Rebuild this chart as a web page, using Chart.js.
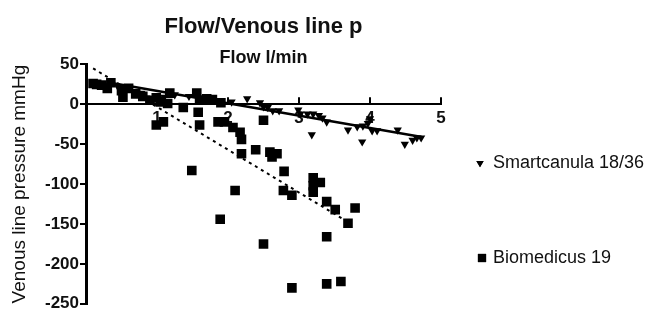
<!DOCTYPE html>
<html>
<head>
<meta charset="utf-8">
<script src="https://cdn.jsdelivr.net/npm/chart.js@4/dist/chart.umd.min.js"></script>
<style>
  html, body { margin: 0; padding: 0; background: #fff; }
  #wrap { width: 666px; height: 315px; position: relative; }
</style>
</head>
<body>
<div id="wrap"><canvas id="c" width="666" height="315"></canvas></div>
<script>
// ---- data ----
const smartFlow =     [0.34,0.45,0.78,0.85,1.0,1.1,1.25,1.45,1.6,1.75,1.9,2.05,2.27,2.45,2.5,2.56,2.63,2.72,2.99,3.02,3.12,3.2,3.28,3.33,3.39,3.18,3.69,3.82,3.9,3.97,4.0,4.03,4.1,3.89,4.39,4.49,4.6,4.66,4.72];
const smartPressure = [24,22,14,8,6,9,12,10,8,6,5,3,7,2,-3,-4,-8,-8,-7,-12,-12,-12,-14,-17,-22,-38,-32,-28,-27,-24,-18,-33,-33,-47,-32,-50,-45,-42,-42];

const bioFlow =     [0.1,0.15,0.22,0.3,0.35,0.5,0.52,0.6,0.7,0.8,0.9,0.99,1.05,1.15,1.18,1.37,1.56,1.6,1.7,1.78,1.9,0.99,1.09,1.58,1.6,1.86,1.95,2.07,2.17,2.19,2.19,2.39,2.5,2.59,2.62,2.69,2.79,2.78,2.9,3.2,3.2,3.3,3.2,3.39,3.51,3.69,3.79,1.49,2.1,1.89,2.5,3.39,2.9,3.39,3.59];
const bioPressure = [26,25,24,20,27,17,9,20,13,10,5,8,3,1,14,-4,14,5,7,6,2,-26,-22,-10,-26,-22,-22,-29,-35,-44,-62,-57,-20,-60,-66,-62,-84,-108,-114,-92,-102,-98,-110,-122,-132,-149,-130,-83,-108,-144,-175,-166,-230,-225,-222];

// regression line end points (flow, pressure)
const smartFitFlow = [0.34, 4.73];
const smartFitPressure = [27, -41];
const bioFitFlow = [0.1, 3.68];
const bioFitPressure = [45, -147];

const xTicks = [0, 1, 2, 3, 4, 5];
const yTicks = [-250, -200, -150, -100, -50, 0, 50];

const seriesLabels = ['Smartcanula 18/36', 'Biomedicus 19'];
const chartTitle = 'Flow/Venous line p';
const xTitle = 'Flow l/min';
const yTitle = 'Venous line pressure mmHg';

const pts = (xs, ys) => xs.map((x, i) => ({ x: x, y: ys[i] }));
const FONT = "'Liberation Sans', Arial, Helvetica, sans-serif";

// upward tick marks on the x axis + custom legend on the right
const extras = {
  id: 'extras',
  afterDraw(chart) {
    const ctx = chart.ctx;
    const xs = chart.scales.x, ys = chart.scales.y;
    const y0 = ys.getPixelForValue(0);
    ctx.save();
    ctx.strokeStyle = '#000';
    ctx.lineWidth = 2;
    xTicks.forEach(v => {
      if (v === 0) return;
      const px = xs.getPixelForValue(v);
      ctx.beginPath();
      ctx.moveTo(px, y0);
      ctx.lineTo(px, y0 - 7);
      ctx.stroke();
    });
    // legend
    const items = [
      { style: 'triangle', rotation: 180, radius: 4.2, mx: 480, y: 163 },
      { style: 'rect', rotation: 0, radius: 5.8, mx: 482, y: 258 }
    ];
    ctx.font = '18px ' + FONT;
    ctx.textBaseline = 'middle';
    ctx.textAlign = 'left';
    items.forEach((it, i) => {
      ctx.fillStyle = '#000';
      Chart.helpers.drawPoint(ctx, { pointStyle: it.style, rotation: it.rotation, radius: it.radius, borderWidth: 0 }, it.mx, it.y);
      ctx.fill();
      ctx.fillStyle = '#111';
      ctx.fillText(seriesLabels[i], 493, it.y);
    });
    // x axis title at the top, centred over the plot
    ctx.font = 'bold 18px ' + FONT;
    ctx.textAlign = 'center';
    ctx.fillStyle = '#111';
    ctx.fillText(xTitle, (chart.chartArea.left + chart.chartArea.right) / 2, 58);
    ctx.restore();
  }
};

new Chart(document.getElementById('c'), {
  type: 'scatter',
  data: {
    datasets: [
      {
        label: seriesLabels[0],
        data: pts(smartFlow, smartPressure),
        pointStyle: 'triangle',
        rotation: 180,
        pointRadius: 4.8,
        pointHoverRadius: 4.8,
        backgroundColor: '#000',
        borderWidth: 0,
        order: 1
      },
      {
        label: seriesLabels[1],
        data: pts(bioFlow, bioPressure),
        pointStyle: 'rect',
        pointRadius: 6.8,
        pointHoverRadius: 6.8,
        backgroundColor: '#000',
        borderWidth: 0,
        order: 2
      },
      {
        type: 'line',
        label: 'fit1',
        data: pts(smartFitFlow, smartFitPressure),
        borderColor: '#000',
        borderWidth: 2.5,
        pointRadius: 0,
        fill: false,
        order: 0
      },
      {
        type: 'line',
        label: 'fit2',
        data: pts(bioFitFlow, bioFitPressure),
        borderColor: '#000',
        borderWidth: 2,
        borderDash: [3, 4],
        pointRadius: 0,
        fill: false,
        order: 0
      }
    ]
  },
  options: {
    responsive: false,
    animation: false,
    events: [],
    layout: { padding: { left: 8, right: 225, top: 0, bottom: 11 } },
    plugins: {
      legend: { display: false },
      tooltip: { enabled: false },
      title: {
        display: true,
        text: chartTitle,
        fullSize: false,
        color: '#111',
        font: { family: FONT, size: 22, weight: 'bold', lineHeight: 1.2 },
        padding: { top: 14, bottom: 24 }
      }
    },
    scales: {
      x: {
        type: 'linear',
        position: { y: 0 },
        min: 0, max: 5,
        afterBuildTicks(scale) { scale.ticks = xTicks.map(v => ({ value: v })); },
        ticks: {
          color: '#111',
          font: { family: FONT, size: 17, weight: 'bold' },
          padding: 4,
          maxRotation: 0,
          callback: v => (v === 0 ? '' : String(v))
        },
        grid: { display: true, drawOnChartArea: false, drawTicks: false },
        border: { display: true, color: '#000', width: 2 }
      },
      y: {
        type: 'linear',
        position: 'left',
        min: -250, max: 50,
        afterBuildTicks(scale) { scale.ticks = yTicks.map(v => ({ value: v })); },
        afterFit(scale) { scale.width = 78; },
        ticks: {
          color: '#111',
          font: { family: FONT, size: 17, weight: 'bold' },
          padding: 1
        },
        grid: { display: true, drawOnChartArea: false, drawTicks: true, tickLength: 6, color: '#000', lineWidth: 2 },
        border: { display: true, color: '#000', width: 3 },
        title: {
          display: true,
          text: yTitle,
          color: '#111',
          font: { family: FONT, size: 19 },
          padding: { top: 0, bottom: 0 }
        }
      }
    }
  },
  plugins: [extras]
});
</script>
</body>
</html>
